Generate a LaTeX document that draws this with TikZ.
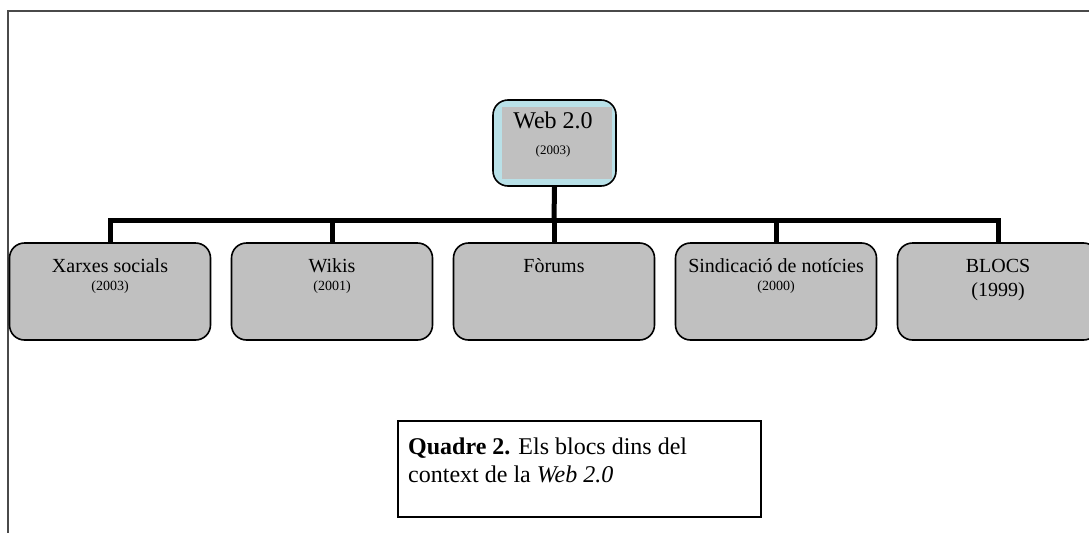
\documentclass[tikz,border=0pt]{standalone}
\usepackage{fontspec}
\setmainfont{Liberation Serif}
\definecolor{boxgray}{HTML}{C0C0C0}
\definecolor{lightcyan}{HTML}{B9E1E8}
\definecolor{framegray}{HTML}{4A4A4A}
\begin{document}
\begin{tikzpicture}[x=1pt,y=-1pt,
  framestyle/.style={draw=framegray,line width=2pt},
  catbox/.style={draw=black,line width=1.6pt,fill=boxgray,rounded corners=15pt,
    minimum width=201pt,minimum height=97pt,inner sep=0pt},
  conn/.style={draw=black,line width=5pt},
  ttl/.style={anchor=base,inner sep=0pt,font=\fontsize{20}{24}\selectfont},
  yr/.style={anchor=base,inner sep=0pt,font=\fontsize{14}{16}\selectfont},
  captxt/.style={anchor=base west,inner sep=0pt,font=\fontsize{24}{28}\selectfont}]
\useasboundingbox (0,0) rectangle (1089,533);
% outer frame (open on the right and bottom)
\draw[framestyle] (1089,11) -- (8,11) -- (8,533);
% Web 2.0 box
\node[draw=black,line width=1.6pt,fill=lightcyan,rounded corners=15pt,
  minimum width=123pt,minimum height=86pt,inner sep=0pt] (web) at (554.5,143) {};
\node[fill=boxgray,minimum width=110pt,minimum height=72pt,inner sep=0pt] (webin) at (557,143) {};
\node[anchor=base,inner sep=0pt,font=\fontsize{24}{28}\selectfont] (webt) at (553,128) {Web 2.0};
\node[anchor=base,inner sep=0pt,font=\fontsize{13}{15}\selectfont] (weby) at (553,154) {(2003)};
% category boxes
\node[catbox] (xarx) at (110,291.5) {};
\node[catbox] (wiki) at (332,291.5) {};
\node[catbox] (foru) at (554,291.5) {};
\node[catbox] (sind) at (776,291.5) {};
\node[catbox] (blocs) at (998,291.5) {};
\node[ttl] (xarxt) at (110,272) {Xarxes socials};
\node[yr] (xarxy) at (110,290) {(2003)};
\node[ttl] (wikit) at (332,272) {Wikis};
\node[yr] (wikiy) at (332,290) {(2001)};
\node[ttl] (forut) at (554,272) {Fòrums};
\node[ttl] (sindt) at (776,272) {Sindicació de notícies};
\node[yr] (sindy) at (776,290) {(2000)};
\node[ttl] (blocst) at (998,272) {BLOCS};
\node[ttl] (blocsy) at (998,296) {(1999)};
% connectors
\coordinate (hub) at (554,220);
\draw[conn] (web.south) -- (hub);
\draw[conn] (hub) -| (xarx.north);
\draw[conn] (hub) -| (wiki.north);
\draw[conn] (hub) -- (foru.north);
\draw[conn] (hub) -| (sind.north);
\draw[conn] (hub) -| (blocs.north);
% caption box
\node[draw=black,line width=2pt,fill=white,minimum width=363pt,minimum height=96pt,inner sep=0pt] (cap) at (579.5,469) {};
\node[captxt] (cap1) at (408,454) {\textbf{Quadre 2.} Els blocs dins del};
\node[captxt] (cap2) at (408,482) {context de la \textit{Web 2.0}};
\end{tikzpicture}
\end{document}
